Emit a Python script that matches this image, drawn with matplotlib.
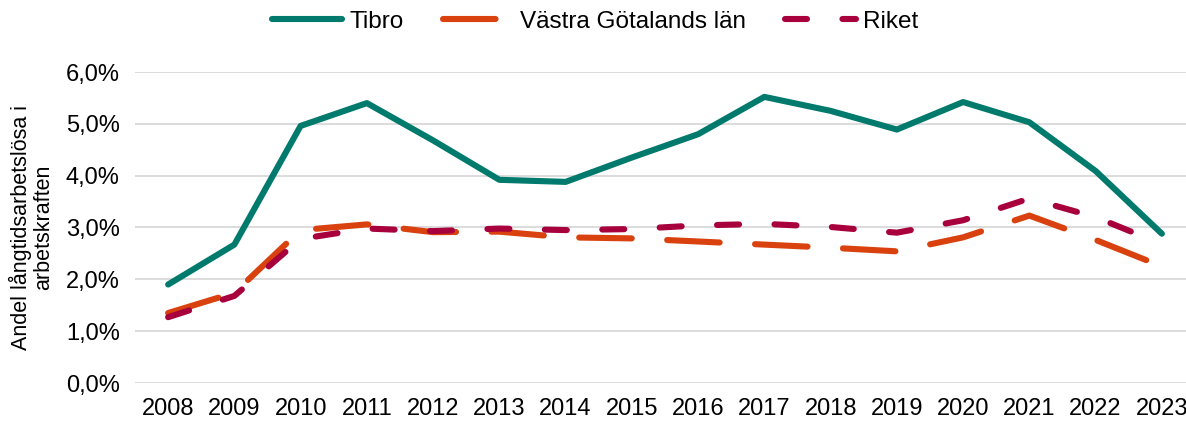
import matplotlib
matplotlib.use("Agg")
import matplotlib.pyplot as plt
from matplotlib.ticker import FuncFormatter

years = list(range(2008, 2024))
tibro = [1.90, 2.67, 4.96, 5.40, 4.68, 3.92, 3.88, 4.35, 4.80, 5.52, 5.25, 4.89, 5.42, 5.03, 4.09, 2.88]
vg_lan = [1.35, 1.74, 2.95, 3.06, 2.91, 2.92, 2.81, 2.79, 2.73, 2.67, 2.61, 2.54, 2.81, 3.23, 2.76, 2.25]
riket = [1.27, 1.68, 2.78, 2.98, 2.93, 2.98, 2.95, 2.97, 3.04, 3.07, 3.01, 2.90, 3.14, 3.56, 3.20, 2.68]
labels = ["Tibro", "Västra Götalands län", "Riket"]
y_ticks = [0, 1, 2, 3, 4, 5, 6]

plt.rcParams['font.family'] = ['Liberation Sans', 'DejaVu Sans']

fig = plt.figure(figsize=(11.86, 4.23), dpi=100)
W, H = 1186, 423
ax = fig.add_axes([135 / W, 1 - 383 / H, (1195 - 135) / W, (383 - 72) / H])

lw = 4.4
ax.plot(years, tibro, color="#007A6C", lw=lw, solid_capstyle="round", solid_joinstyle="round", label=labels[0])
ax.plot(years, vg_lan, color="#D9420F", lw=lw, dashes=(8.6, 5.8), dash_capstyle="round", label=labels[1])
ax.plot(years, riket, color="#A8003C", lw=lw, dashes=(3.6, 5.8), dash_capstyle="round", label=labels[2])

ax.set_xlim(2007.5, 2023.5)
ax.set_ylim(0, 6)
ax.set_yticks(y_ticks)
ax.yaxis.set_major_formatter(FuncFormatter(lambda v, p: f"{v:.1f}".replace(".", ",") + "%"))
ax.set_xticks(years)
ax.set_xticklabels([str(y) for y in years])
ax.grid(axis="y", color="#D9D9D9", lw=1.3)
ax.set_axisbelow(True)
for s in ax.spines.values():
    s.set_visible(False)
ax.tick_params(length=0, labelsize=17, colors="black")
ax.tick_params(axis="x", pad=11)
ax.tick_params(axis="y", pad=11)

ax.set_ylabel("Andel långtidsarbetslösa i\narbetskraften", fontsize=15.5, labelpad=8, linespacing=1.1)

fig.legend(loc="center", bbox_to_anchor=(595 / W, 1 - 22 / H), ncol=3, frameon=False,
           fontsize=17.5, handlelength=2.9, handletextpad=0.3, columnspacing=1.6)

fig.savefig("out.png", dpi=100)
